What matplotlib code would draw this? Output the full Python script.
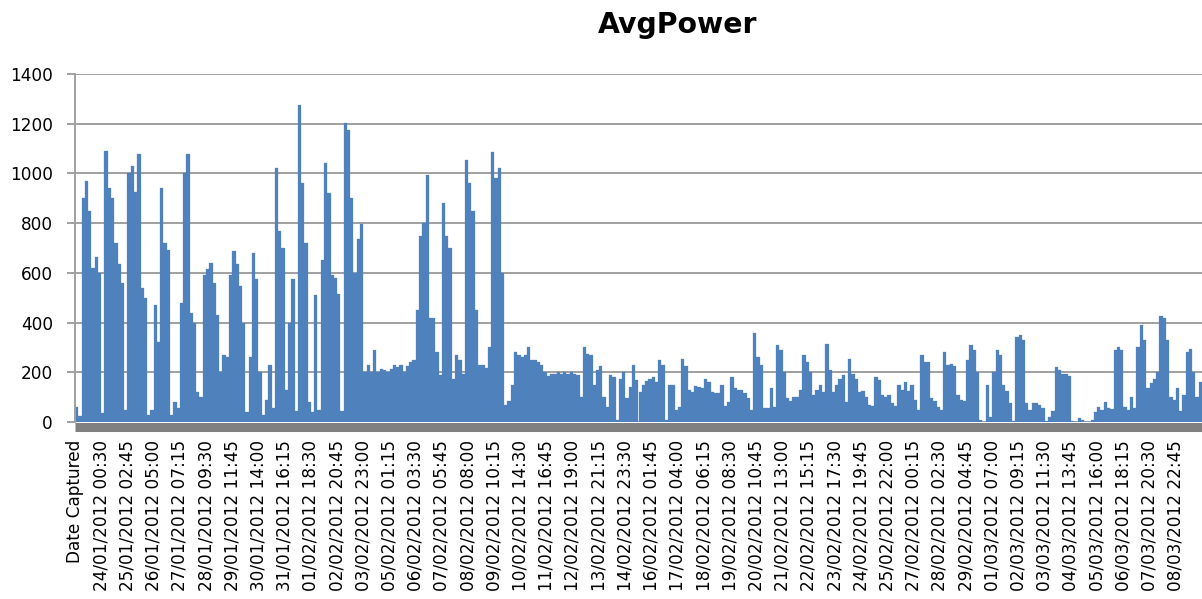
import matplotlib
matplotlib.use('Agg')
import matplotlib.pyplot as plt
import numpy as np

# AvgPower readings, one value per ~3h17m slot (8 slots between date labels)
avg_power = [
    60, 25, 900, 970, 850, 620, 665, 600, 35, 1090, 940, 900, 720, 635, 560, 50,
    1000, 1030, 925, 1080, 540, 500, 30, 50, 470, 320, 940, 720, 690, 28, 80, 55,
    480, 1000, 1080, 440, 400, 120, 100, 590, 615, 640, 560, 430, 200, 268, 262, 590,
    688, 635, 548, 400, 40, 262, 678, 575, 200, 30, 90, 230, 55, 1021, 768, 700,
    130, 400, 575, 45, 1275, 960, 720, 80, 40, 510, 48, 650, 1041, 920, 590, 580,
    515, 45, 1201, 1175, 900, 600, 735, 795, 200, 230, 200, 288, 200, 215, 210, 200,
    215, 230, 220, 230, 200, 225, 240, 250, 450, 750, 800, 995, 420, 420, 280, 190,
    880, 750, 700, 175, 270, 250, 195, 1055, 960, 850, 450, 230, 230, 218, 300, 1088,
    980, 1021, 600, 68, 85, 150, 280, 270, 260, 270, 300, 248, 248, 240, 228, 200,
    185, 195, 195, 200, 195, 200, 195, 200, 195, 190, 100, 300, 275, 270, 150, 210,
    225, 100, 60, 190, 180, 10, 175, 200, 95, 140, 230, 170, 120, 150, 165, 175,
    180, 160, 250, 230, 10, 150, 150, 50, 60, 255, 225, 130, 120, 145, 140, 135,
    175, 160, 120, 115, 115, 150, 65, 80, 180, 135, 130, 128, 115, 95, 50, 360,
    260, 230, 55, 55, 135, 60, 308, 290, 200, 95, 85, 100, 100, 130, 270, 240,
    200, 110, 130, 150, 120, 315, 208, 120, 150, 175, 190, 80, 255, 195, 175, 120,
    125, 100, 68, 65, 180, 170, 110, 100, 110, 75, 65, 150, 130, 160, 125, 150,
    90, 50, 270, 240, 240, 95, 85, 60, 50, 280, 230, 235, 225, 110, 90, 85,
    250, 310, 290, 200, 10, 0, 148, 20, 200, 290, 270, 150, 125, 75, 5, 340,
    350, 330, 75, 50, 75, 75, 70, 55, 5, 20, 45, 220, 208, 195, 195, 185,
    5, 2, 15, 8, 0, 0, 10, 40, 60, 50, 80, 55, 52, 290, 301, 290,
    60, 48, 100, 55, 300, 390, 330, 135, 155, 175, 200, 428, 420, 330, 100, 90,
    135, 45, 110, 280, 295, 200, 100, 160,
]

date_labels = [
    'Date Captured',
    '24/01/2012 00:30', '25/01/2012 02:45', '26/01/2012 05:00', '27/01/2012 07:15',
    '28/01/2012 09:30', '29/01/2012 11:45', '30/01/2012 14:00', '31/01/2012 16:15',
    '01/02/2012 18:30', '02/02/2012 20:45', '03/02/2012 23:00', '05/02/2012 01:15',
    '06/02/2012 03:30', '07/02/2012 05:45', '08/02/2012 08:00', '09/02/2012 10:15',
    '10/02/2012 14:30', '11/02/2012 16:45', '12/02/2012 19:00', '13/02/2012 21:15',
    '14/02/2012 23:30', '16/02/2012 01:45', '17/02/2012 04:00', '18/02/2012 06:15',
    '19/02/2012 08:30', '20/02/2012 10:45', '21/02/2012 13:00', '22/02/2012 15:15',
    '23/02/2012 17:30', '24/02/2012 19:45', '25/02/2012 22:00', '27/02/2012 00:15',
    '28/02/2012 02:30', '29/02/2012 04:45', '01/03/2012 07:00', '02/03/2012 09:15',
    '03/03/2012 11:30', '04/03/2012 13:45', '05/03/2012 16:00', '06/03/2012 18:15',
    '07/03/2012 20:30', '08/03/2012 22:45',
]
slots_per_label = 8

grid_col = '#a0a0a0'

fig = plt.figure(figsize=(12.02, 5.99), dpi=100)
ax = fig.add_axes([75 / 1202, 177 / 599, 1 - 75 / 1202, 348 / 599])

# spine setup first: set_position resets the ticks
for s in ['top', 'right']:
    ax.spines[s].set_visible(False)
ax.spines['left'].set_color(grid_col)
ax.spines['left'].set_linewidth(1.4)
ax.spines['bottom'].set_position(('outward', 3.25))
ax.spines['bottom'].set_color('#808080')
ax.spines['bottom'].set_linewidth(6.5)
ax.spines['bottom'].set_capstyle('butt')

x = np.arange(len(avg_power))
ax.bar(x, avg_power, width=1, align='edge', color='#4F81BD',
       edgecolor='#4F81BD', linewidth=0.2, zorder=2)

ax.set_xlim(0, len(avg_power))
ax.set_ylim(0, 1400)
ax.set_yticks(range(0, 1401, 200))
ax.yaxis.grid(True, color=grid_col, linewidth=1.4, zorder=0)
ax.set_axisbelow(True)

ax.set_xticks(np.arange(len(date_labels)) * slots_per_label)
ax.set_xticklabels(date_labels, rotation=90, ha='center', va='top', fontsize=12.2)

ax.tick_params(axis='y', length=5.8, width=1.4, color=grid_col, pad=10,
               labelsize=12.2)
ax.tick_params(axis='x', length=0, pad=9.7)

fig.text(677.5 / 1202, (599 - 33) / 599, 'AvgPower', ha='center', va='baseline',
         fontsize=20.4, fontweight='bold')

fig.savefig('out.png', dpi=100)
